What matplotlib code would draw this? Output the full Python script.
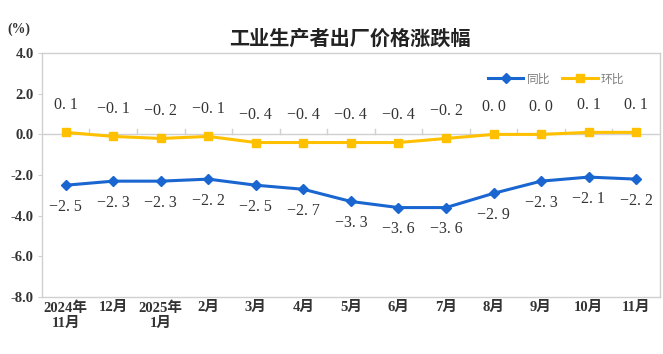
import matplotlib.pyplot as plt

months = ["2024年\n11月", "12月", "2025年\n1月", "2月", "3月", "4月", "5月",
          "6月", "7月", "8月", "9月", "10月", "11月"]
yoy = [-2.5, -2.3, -2.3, -2.2, -2.5, -2.7, -3.3, -3.6, -3.6, -2.9, -2.3, -2.1, -2.2]
mom = [0.1, -0.1, -0.2, -0.1, -0.4, -0.4, -0.4, -0.4, -0.2, 0.0, 0.0, 0.1, 0.1]
yticks = [4.0, 2.0, 0.0, -2.0, -4.0, -6.0, -8.0]

fonts = ['Liberation Serif', 'Noto Sans CJK SC']
blue = '#1a66d0'
gold = '#ffc000'
grid_c = '#d0d0d0'

fig = plt.figure(figsize=(6.63, 3.54), dpi=100)
ax = fig.add_axes([0.0633, 0.161, 0.932, 0.689])

x = list(range(len(months)))
ax.plot(x, yoy, color=blue, lw=2.2, marker='D', ms=5, label='同比', zorder=3)
ax.plot(x, mom, color=gold, lw=2.2, marker='s', ms=5.5, label='环比', zorder=3)

# data labels
def fmt(v):
    return f"{v:.1f}".replace('-', '\u2212').replace('.', '. ')

for i, v in enumerate(mom):
    ax.annotate(fmt(v), (i, v), xytext=(0, 14), textcoords='offset points',
                ha='center', va='bottom', fontsize=11.5, family=fonts, color='#333333')
for i, v in enumerate(yoy):
    ax.annotate(fmt(v), (i, v), xytext=(0, -10), textcoords='offset points',
                ha='center', va='top', fontsize=11.5, family=fonts, color='#333333')

ax.set_xlim(-0.5, len(months) - 0.5)
ax.set_ylim(-8.0, 4.0)
ax.set_yticks(yticks)
ax.set_yticklabels([f"{t:.1f}" for t in yticks], family=fonts, fontsize=10.5,
                   fontweight='bold', color='#333333')
ax.tick_params(axis='y', length=3, color=grid_c, pad=3)

# category labels at the bottom, boundary ticks on the zero line
ax.set_xticks(x)
ax.set_xticklabels(months, family=fonts, fontsize=10.5, fontweight='bold',
                   color='#333333', linespacing=1.25)
ax.tick_params(axis='x', length=0, pad=3)
ax.axhline(0, color=grid_c, lw=1, zorder=1)
for b in range(1, len(months)):
    ax.plot([b - 0.5, b - 0.5], [0, 0.25], color=grid_c, lw=1, zorder=1)

for s in ax.spines.values():
    s.set_color(grid_c)
    s.set_linewidth(1)

leg = ax.legend(loc='upper right', bbox_to_anchor=(0.96, 0.96), ncol=2, frameon=False,
                prop={'family': fonts, 'size': 8.5}, handlelength=3.0, columnspacing=1.0,
                handletextpad=0.3)
for t in leg.get_texts():
    t.set_color('#808080')

fig.text(0.528, 0.893, "工业生产者出厂价格涨跌幅", ha='center', va='center',
         fontsize=14.5, fontweight='bold', family=['Noto Sans CJK SC'], color='#222222')
fig.text(0.029, 0.918, "(%)", ha='center', va='center', fontsize=10, fontweight='bold',
         family=fonts, color='#333333')

fig.savefig('out.png', dpi=100)
